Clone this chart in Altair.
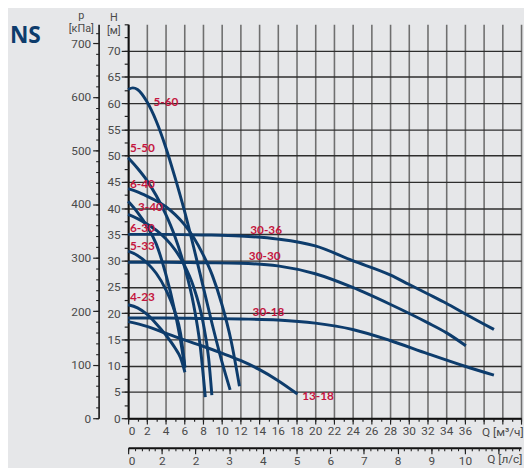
import altair as alt
import pandas as pd

NAVY = "#0d3c6c"
CRIMSON = "#c4163f"
BG = "#e6e7e9"

# ---- pump curves: flow Q [m3/h], head H [m] ----
q_5_60 = [0, 0.5, 1, 2, 3, 4, 5, 6, 7, 8, 9, 10, 10.9]
h_5_60 = [62.6, 62.9, 62.6, 60.3, 56.6, 51.7, 45.9, 39.6, 32.6, 25.2, 17.8, 10.9, 5.4]
q_6_40 = [0, 1, 2, 3, 4, 5, 6, 7, 8, 9, 10, 11, 11.9]
h_6_40 = [43.7, 43.1, 42.3, 41.4, 40.3, 38.8, 36.9, 34.4, 31.2, 27.2, 21.8, 14.8, 6.1]
q_5_50 = [0, 1, 2, 3, 4, 5, 6, 7, 7.7, 8.25]
h_5_50 = [49.6, 47.6, 45.3, 42.4, 38.9, 34.6, 29.0, 21.6, 13.8, 4.0]
q_6_30 = [0, 1, 2, 3, 4, 5, 6, 7, 8, 8.6, 8.95]
h_6_30 = [38.8, 38.0, 37.0, 35.8, 34.2, 32.1, 29.2, 25.0, 18.3, 11.5, 4.4]
q_3_40 = [0, 1, 2, 3, 4, 5, 5.6, 6.07]
h_3_40 = [41.3, 39.2, 36.6, 33.2, 27.6, 20.3, 14.8, 9.6]
q_5_33 = [0, 1, 2, 3, 4, 5, 5.6, 6.07]
h_5_33 = [31.8, 31.0, 29.6, 27.6, 24.6, 20.2, 16.2, 9.7]
q_4_23 = [0, 1, 2, 3, 4, 5, 5.6, 6.07]
h_4_23 = [21.6, 21.0, 19.8, 18.0, 15.9, 13.4, 11.5, 8.75]
q_13_18 = [0, 2, 4, 6, 8, 10, 12, 14, 16, 18.1]
h_13_18 = [18.4, 17.5, 16.2, 14.9, 13.7, 12.4, 11.0, 9.3, 7.2, 4.6]
q_30_36 = [0, 4, 8, 12, 16, 20, 24, 28, 30, 32, 34, 36, 39.1]
h_30_36 = [35.0, 35.0, 34.9, 34.7, 34.1, 32.8, 30.0, 27.3, 25.5, 23.7, 21.9, 19.9, 16.9]
q_30_30 = [0, 4, 8, 12, 16, 20, 24, 28, 32, 34, 36.1]
h_30_30 = [29.7, 29.7, 29.6, 29.5, 29.0, 27.5, 24.9, 21.7, 18.2, 16.3, 13.8]
q_30_18 = [0, 4, 8, 12, 16, 20, 24, 28, 32, 36, 39.1]
h_30_18 = [19.1, 19.1, 19.0, 18.9, 18.7, 18.1, 16.9, 14.8, 12.3, 9.9, 8.2]

curve_table = {
    "5-60": (q_5_60, h_5_60), "6-40": (q_6_40, h_6_40), "5-50": (q_5_50, h_5_50),
    "6-30": (q_6_30, h_6_30), "3-40": (q_3_40, h_3_40), "5-33": (q_5_33, h_5_33),
    "4-23": (q_4_23, h_4_23), "13-18": (q_13_18, h_13_18), "30-36": (q_30_36, h_30_36),
    "30-30": (q_30_30, h_30_30), "30-18": (q_30_18, h_30_18),
}

# ---- curve labels ----
label_names = ["5-60", "5-50", "6-40", "3-40", "6-30", "5-33", "4-23", "30-36", "30-30", "30-18", "13-18"]
label_q = [2.7, 0.2, 0.2, 1.05, 0.2, 0.2, 0.2, 13.05, 12.9, 13.3, 18.6]
label_h = [60.2, 51.4, 44.5, 40.2, 36.2, 32.8, 23.0, 35.8, 30.8, 20.3, 4.3]

# ---- axes ----
q_major = list(range(0, 43, 2))
q_minor = list(range(0, 43))
h_major = list(range(0, 71, 5))
h_minor = [x * 2.5 for x in range(0, 31)]
p_major = list(range(0, 701, 100))
p_minor = list(range(0, 721, 20))
ls_major = list(range(0, 12))
ls_minor = [round(x * 0.2, 1) for x in range(0, 59)]

Q_MAX = 42.0
H_MAX = 75.0
P_MAX = H_MAX * 9.81
LS_MAX = Q_MAX / 3.6

rows = []
for name, (qs, hs) in curve_table.items():
    for q, h in zip(qs, hs):
        rows.append({"pump": name, "Q": q, "H": h})
df = pd.DataFrame(rows)
lab = pd.DataFrame({"name": label_names, "Q": label_q, "H": label_h})

LABEL_FONT = "Liberation Sans Narrow, Roboto, sans-serif"

xs = alt.Scale(domain=[0, Q_MAX], nice=False, zero=False)
ys = alt.Scale(domain=[0, H_MAX], nice=False, zero=False)

curves = alt.Chart(df).mark_line(
    interpolate="monotone", strokeWidth=3, color=NAVY, strokeCap="butt"
).encode(
    x=alt.X("Q:Q", scale=xs, axis=alt.Axis(
        orient="bottom", values=q_major, grid=True, gridColor="#6f6f6f", gridWidth=1.6,
        labelExpr="datum.value <= 36 ? datum.label : ''",
        tickSize=6, tickColor="#222", tickWidth=1.2, domainColor="#111", domainWidth=2,
        labelFont=LABEL_FONT, labelFontSize=12, labelColor="#4a4a4a", labelPadding=2,
        title="Q [м³/ч]", titleFont=LABEL_FONT, titleFontSize=12, titleFontWeight="normal",
        titleColor="#4a4a4a", titleX=380, titleY=14, titleAlign="center", titleBaseline="middle",
    )),
    y=alt.Y("H:Q", scale=ys, axis=alt.Axis(
        orient="left", values=h_major, grid=True, gridColor="#2e2e2e", gridWidth=1.4,
        tickSize=7, tickColor="#222", tickWidth=1.2, domainColor="#111", domainWidth=2,
        labelFont=LABEL_FONT, labelFontSize=12, labelColor="#4a4a4a", labelPadding=1,
        title=["H", "[м]"], titleFont=LABEL_FONT, titleFontSize=11, titleFontWeight="normal",
        titleColor="#4a4a4a", titleAngle=0, titleX=-15, titleY=-6.5, titleAlign="center",
        titleBaseline="middle", titleLineHeight=13,
    )),
    detail="pump:N",
)

labels = alt.Chart(lab).mark_text(
    align="left", baseline="middle", font="Lato", fontWeight="bold", fontSize=12, color=CRIMSON
).encode(
    x=alt.X("Q:Q", scale=xs, axis=None),
    y=alt.Y("H:Q", scale=ys, axis=None),
    text="name:N",
)

minor_a = alt.Chart(df).mark_point(opacity=0).encode(
    x=alt.X("Q:Q", scale=xs, axis=alt.Axis(
        orient="bottom", values=q_minor, labels=False, domain=False, grid=False,
        tickSize=3, tickColor="#222", tickWidth=1.2, title=None)),
    y=alt.Y("H:Q", scale=ys, axis=alt.Axis(
        orient="left", values=h_minor, labels=False, domain=False, grid=False,
        tickSize=4, tickColor="#222", tickWidth=1.2, title=None)),
)

layer_a = alt.layer(curves, labels, minor_a).resolve_axis(x="independent", y="independent")

dummy = pd.DataFrame({"qls": [0, LS_MAX], "p": [0, P_MAX]})
xs2 = alt.Scale(domain=[0, LS_MAX], nice=False, zero=False)
ys2 = alt.Scale(domain=[0, P_MAX], nice=False, zero=False)

ls_p_major = alt.Chart(dummy).mark_point(opacity=0).encode(
    x=alt.X("qls:Q", scale=xs2, axis=alt.Axis(
        orient="bottom", offset=30, values=ls_major, grid=False,
        labelExpr="datum.value == 1 ? '2' : (datum.value <= 10 ? datum.label : '')",
        tickSize=6, tickColor="#222", tickWidth=1.2, domainColor="#111", domainWidth=2,
        labelFont=LABEL_FONT, labelFontSize=12, labelColor="#4a4a4a", labelPadding=2,
        title="Q [л/с]", titleFont=LABEL_FONT, titleFontSize=12, titleFontWeight="normal",
        titleColor="#4a4a4a", titleX=382, titleY=11, titleAlign="center", titleBaseline="middle",
    )),
    y=alt.Y("p:Q", scale=ys2, axis=alt.Axis(
        orient="left", offset=30, values=p_major, grid=False,
        tickSize=6, tickColor="#222", tickWidth=1.2, domainColor="#111", domainWidth=1.6,
        labelFont=LABEL_FONT, labelFontSize=12, labelColor="#4a4a4a", labelPadding=2,
        title=["p", "[кПа]"], titleFont=LABEL_FONT, titleFontSize=11, titleFontWeight="normal",
        titleColor="#4a4a4a", titleAngle=0, titleX=-18, titleY=-9, titleAlign="center",
        titleBaseline="middle", titleLineHeight=13,
    )),
)

ls_p_minor = alt.Chart(dummy).mark_point(opacity=0).encode(
    x=alt.X("qls:Q", scale=xs2, axis=alt.Axis(
        orient="bottom", offset=30, values=ls_minor, labels=False, domain=False, grid=False,
        tickSize=3, tickColor="#222", tickWidth=1.1, title=None)),
    y=alt.Y("p:Q", scale=ys2, axis=alt.Axis(
        orient="left", offset=30, values=p_minor, labels=False, domain=False, grid=False,
        tickSize=3, tickColor="#222", tickWidth=1.1, title=None)),
)

layer_b = alt.layer(ls_p_major, ls_p_minor).resolve_axis(x="independent", y="independent")

title_df = pd.DataFrame({"t": ["NS"]})
ns_text = alt.Chart(title_df).mark_text(
    align="left", baseline="alphabetic", font="Open Sans", fontWeight="bold",
    fontSize=23, color=NAVY
).encode(x=alt.value(-120), y=alt.value(19), text="t:N")

chart = alt.layer(layer_a, layer_b, ns_text).resolve_scale(
    x="independent", y="independent"
).properties(
    width=399, height=400,
    autosize=alt.AutoSizeParams(type="none"),
    padding={"left": 122, "top": 13, "right": 3, "bottom": 48},
    background=BG,
).configure_view(stroke=None)

chart.save("out.html", embed_options={"renderer": "svg", "actions": False})
